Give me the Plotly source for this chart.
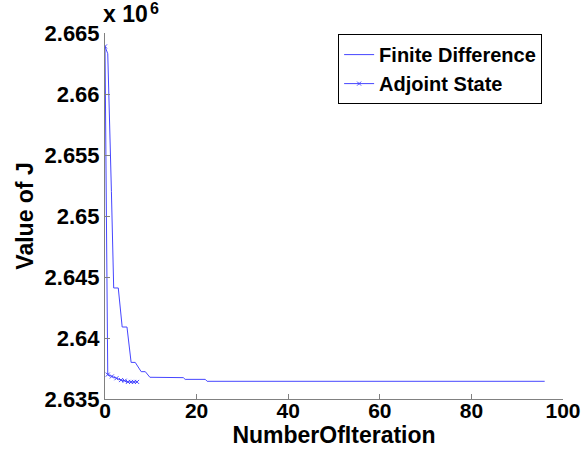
import plotly.graph_objects as go

# Values of J in units of 1e6 (axis shows "x 10^6")
fd_iter = [0, 0.6, 1.4, 1.9, 2.9, 3.75, 4.8, 5.7, 6.6, 7.9, 8.8, 9.8, 17.1, 17.5, 21.9, 22.3, 96]
fd_J = [2.6639, 2.6633, 2.6520, 2.6441, 2.6441, 2.6409, 2.6409, 2.6380, 2.6380, 2.63724,
        2.63724, 2.63678, 2.63675, 2.63661, 2.63661, 2.63645, 2.63645]

adj_iter = [0, 0.6, 1.5, 2.5, 3.5, 4.3, 5.0, 5.7, 6.3, 7.0]
adj_J = [2.6639, 2.6370, 2.63685, 2.6367, 2.63655, 2.6365, 2.6364, 2.6364, 2.6364, 2.6364]

x_ticks = [0, 20, 40, 60, 80, 100]
y_ticks = [2.635, 2.64, 2.645, 2.65, 2.655, 2.66, 2.665]
y_ticktext = ["2.635", "2.64", "2.645", "2.65", "2.655", "2.66", "2.665"]

blue = "rgb(70,70,255)"
font = "Liberation Sans, Arial, sans-serif"

fig = go.Figure()
fig.add_trace(go.Scatter(x=fd_iter, y=fd_J, mode="lines", name="<b>Finite Difference</b>",
                         line=dict(color=blue, width=1)))
fig.add_trace(go.Scatter(x=adj_iter, y=adj_J, mode="lines+markers", name="<b>Adjoint State</b>",
                         line=dict(color=blue, width=1),
                         marker=dict(symbol="x-thin", size=4, line=dict(color=blue, width=1))))

axis_common = dict(showgrid=False, zeroline=False, showline=True, linecolor="#808080",
                   linewidth=1, ticks="inside", ticklen=5, tickcolor="#808080")

fig.update_layout(
    width=584, height=457,
    margin=dict(l=104.5, r=21, t=33, b=58),
    paper_bgcolor="white", plot_bgcolor="white",
    font=dict(family=font, color="black"),
    showlegend=True,
    legend=dict(x=0.509, y=0.997, xanchor="left", yanchor="top",
                bordercolor="black", borderwidth=1, bgcolor="white",
                font=dict(family=font, size=20, color="black"),
                tracegroupgap=0, itemwidth=30),
    xaxis=dict(range=[0, 100], tickvals=x_ticks, ticktext=[f"<b>{v}</b>" for v in x_ticks],
               ticklabelstandoff=-7,
               tickfont=dict(family=font, size=21, color="black"),
               title=dict(text="<b>NumberOfIteration</b>", font=dict(family=font, size=23), standoff=4),
               **axis_common),
    yaxis=dict(range=[2.635, 2.665], tickvals=y_ticks, ticktext=[f"<b>{t}</b>" for t in y_ticktext],
               tickfont=dict(family=font, size=22, color="black"),
               title=dict(text="<b>Value of J</b>", font=dict(family=font, size=23), standoff=4),
               **axis_common),
)
fig.update_xaxes(automargin=False)
fig.update_yaxes(automargin=False)

# axis multiplier "x 10^6" above the y axis
fig.add_annotation(x=0, y=1, xref="paper", yref="paper", xanchor="left", yanchor="middle",
                   text="<b>x 10</b>", showarrow=False,
                   font=dict(family=font, size=23, color="black"), xshift=-4, yshift=19)
fig.add_annotation(x=0, y=1, xref="paper", yref="paper", xanchor="left", yanchor="middle",
                   text="<b>6</b>", showarrow=False,
                   font=dict(family=font, size=16, color="black"), xshift=43, yshift=25)

fig.write_html("out.html", config={"displayModeBar": False},
               post_script="document.body.style.margin='0';")
